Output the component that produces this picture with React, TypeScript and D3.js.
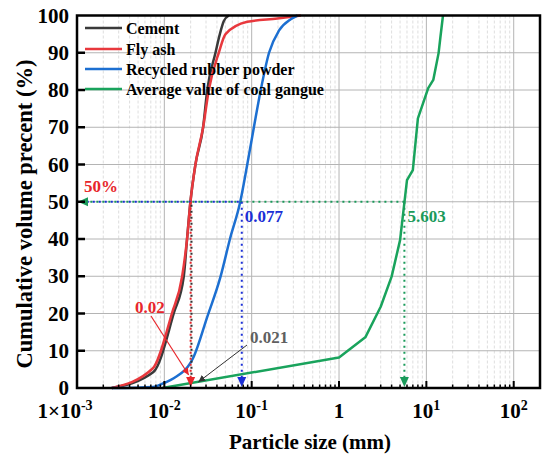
import React, { useEffect, useRef } from 'react';
import * as d3 from 'd3';

type Pt = [number, number];

// particle size (mm) vs cumulative volume (%)
const cementX = [0.0025, 0.0075, 0.0128, 0.0167, 0.0182, 0.0199, 0.0227, 0.0278, 0.031, 0.0385, 0.0432, 0.048, 0.0548];
const cementY = [0, 4.3, 20, 30, 40, 50, 60, 70, 80, 90, 95, 98.5, 100];
const flyAshX = [0.0025, 0.0074, 0.0122, 0.016, 0.0182, 0.0199, 0.0227, 0.0278, 0.0323, 0.042, 0.0502, 0.089, 0.197, 0.366];
const flyAshY = [0, 5.3, 20, 30, 40, 50, 60, 70, 80, 90, 95, 98.3, 99.2, 100];
const rubberX = [0.0025, 0.0075, 0.0098, 0.0128, 0.0217, 0.031, 0.044, 0.0564, 0.074, 0.089, 0.106, 0.127, 0.158, 0.206, 0.28, 0.335];
const rubberY = [0, 0.3, 1.3, 2.6, 8.4, 19.1, 29.9, 40, 50, 60, 70, 80, 90, 96, 99, 100];
const gangueX = [0.0095, 1, 2, 3, 4, 5, 6, 7, 8, 10.5, 12, 13.8, 14.5, 15.5];
const gangueY = [0, 8.2, 13.6, 21.8, 29.9, 39.7, 55.8, 58.5, 72.4, 80.5, 82.7, 89.9, 94.3, 100];

const seriesNames = ['Cement', 'Fly ash', 'Recycled rubber powder', 'Average value of coal gangue'];
const seriesColors = ['#3a3a3a', '#e8383d', '#1c6fd1', '#19a35c'];

// D50 values marked on the chart
const d50Values = [0.02, 0.021, 0.077, 5.603];
const d50Labels = ['0.02', '0.021', '0.077', '5.603'];

const yTicks = [0, 10, 20, 30, 40, 50, 60, 70, 80, 90, 100];
const xDecades = [1e-3, 1e-2, 1e-1, 1, 10, 100];
const xTickBase = ['1×10', '10', '10', '1', '10', '10'];
const xTickSup = ['-3', '-2', '-1', '', '1', '2'];

const FONT = '"Liberation Serif", "Times New Roman", serif';

const App: React.FC = () => {
    const ref = useRef<SVGSVGElement>(null);

    useEffect(() => {
        if (!ref.current) return;
        const svg = d3.select(ref.current);
        svg.selectAll('*').remove();

        const left = 77, right = 540, top = 15.5, bottom = 388;

        const x = d3.scaleLog().domain([1e-3, 200]).range([left, right]);
        const y = d3.scaleLinear().domain([0, 100]).range([bottom, top]);

        const defs = svg.append('defs');
        const marker = (id: string, color: string) => {
            defs.append('marker')
                .attr('id', id)
                .attr('viewBox', '0 0 10 10')
                .attr('refX', 10).attr('refY', 5)
                .attr('markerWidth', 7).attr('markerHeight', 7)
                .attr('markerUnits', 'userSpaceOnUse')
                .attr('orient', 'auto')
                .append('path').attr('d', 'M0,0L10,5L0,10z').attr('fill', color);
        };
        marker('arRed', '#e8262b');
        marker('arGray', '#333');

        // minor grid
        const minors: number[] = [];
        for (let e = -3; e <= 2; e++) {
            for (let m = 2; m <= 9; m++) {
                const v = m * Math.pow(10, e);
                if (v < 200) minors.push(v);
            }
        }
        svg.append('g').selectAll('line').data(minors).enter().append('line')
            .attr('x1', d => x(d)).attr('x2', d => x(d))
            .attr('y1', top).attr('y2', bottom)
            .attr('stroke', '#d6d6d6').attr('stroke-width', 0.8)
            .attr('stroke-dasharray', '3,2');

        // major grid
        svg.append('g').selectAll('line').data(xDecades.slice(1)).enter().append('line')
            .attr('x1', d => x(d)).attr('x2', d => x(d))
            .attr('y1', top).attr('y2', bottom)
            .attr('stroke', '#b4b4b4').attr('stroke-width', 1);
        svg.append('g').selectAll('line').data(yTicks.slice(1, -1)).enter().append('line')
            .attr('x1', left).attr('x2', right)
            .attr('y1', d => y(d)).attr('y2', d => y(d))
            .attr('stroke', '#b4b4b4').attr('stroke-width', 1);

        // series
        const series: Pt[][] = [
            cementX.map((v, i) => [v, cementY[i]] as Pt),
            flyAshX.map((v, i) => [v, flyAshY[i]] as Pt),
            rubberX.map((v, i) => [v, rubberY[i]] as Pt),
            gangueX.map((v, i) => [v, gangueY[i]] as Pt),
        ];
        const smooth = d3.line<Pt>().x(d => x(d[0])).y(d => y(d[1])).curve(d3.curveMonotoneX);
        const straight = d3.line<Pt>().x(d => x(d[0])).y(d => y(d[1]));
        series.forEach((s, i) => {
            svg.append('path')
                .attr('d', (i === 3 ? straight : smooth)(s) || '')
                .attr('fill', 'none')
                .attr('stroke', seriesColors[i])
                .attr('stroke-width', 2.5)
                .attr('stroke-linejoin', 'round');
        });

        // D50 guides
        const dotted = (x1: number, y1: number, x2: number, y2: number, color: string, offset = 0) =>
            svg.append('line')
                .attr('x1', x1).attr('y1', y1).attr('x2', x2).attr('y2', y2)
                .attr('stroke', color).attr('stroke-width', 2)
                .attr('stroke-dasharray', '2,4').attr('stroke-dashoffset', offset);

        dotted(x(d50Values[3]), y(50), left + 8, y(50), '#1a9a5a');
        dotted(x(d50Values[2]), y(50), left + 8, y(50), '#1b2fd6', 3);
        dotted(x(d50Values[3]), y(50), x(d50Values[3]), bottom - 9, '#1a9a5a');
        dotted(x(d50Values[2]), y(50), x(d50Values[2]), bottom - 9, '#1b2fd6');
        dotted(x(d50Values[0]), y(50), x(d50Values[0]), bottom - 9, '#e8262b');
        dotted(x(d50Values[1]) - 1, y(50), x(d50Values[1]) - 1, bottom - 9, '#333', 3);

        const tri = (cx: number, color: string) =>
            svg.append('path')
                .attr('d', `M${cx - 4.5},${bottom - 11}L${cx + 4.5},${bottom - 11}L${cx},${bottom - 1}z`)
                .attr('fill', color);
        tri(x(d50Values[0]), '#e8262b');
        tri(x(d50Values[2]), '#1b2fd6');
        tri(x(d50Values[3]), '#1a9a5a');
        svg.append('path')
            .attr('d', `M${left + 1},${y(50)}L${left + 11},${y(50) - 4.5}L${left + 11},${y(50) + 4.5}z`)
            .attr('fill', '#1a9a5a');

        // annotation arrows
        svg.append('line')
            .attr('x1', 151).attr('y1', 316).attr('x2', x(0.019)).attr('y2', y(3.5))
            .attr('stroke', '#e8262b').attr('stroke-width', 1.2)
            .attr('marker-end', 'url(#arRed)');
        svg.append('line')
            .attr('x1', 247).attr('y1', 345).attr('x2', x(0.0245)).attr('y2', y(1.6))
            .attr('stroke', '#333').attr('stroke-width', 1)
            .attr('marker-end', 'url(#arGray)');

        const label = (tx: number, ty: number, text: string, color: string) =>
            svg.append('text')
                .attr('x', tx).attr('y', ty)
                .attr('font-family', FONT).attr('font-weight', 'bold')
                .attr('font-size', 17).attr('fill', color).text(text);
        label(84, 192, '50%', '#e8262b');
        label(135, 313, d50Labels[0], '#e8262b');
        label(250, 343, d50Labels[1], '#606060');
        label(x(d50Values[2]) + 3, 222, d50Labels[2], '#1b2fd6');
        label(x(d50Values[3]) + 3, 222, d50Labels[3], '#1a9a5a');

        // ticks
        svg.append('g').selectAll('line').data(minors).enter().append('line')
            .attr('x1', d => x(d)).attr('x2', d => x(d))
            .attr('y1', bottom).attr('y2', bottom - 3.5)
            .attr('stroke', '#000').attr('stroke-width', 1.5);
        svg.append('g').selectAll('line').data(xDecades.slice(1)).enter().append('line')
            .attr('x1', d => x(d)).attr('x2', d => x(d))
            .attr('y1', bottom).attr('y2', bottom - 7)
            .attr('stroke', '#000').attr('stroke-width', 2);
        svg.append('g').selectAll('line').data(yTicks.slice(1, -1)).enter().append('line')
            .attr('x1', left).attr('x2', left + 8)
            .attr('y1', d => y(d)).attr('y2', d => y(d))
            .attr('stroke', '#000').attr('stroke-width', 2.5);

        // frame
        svg.append('rect')
            .attr('x', left).attr('y', top)
            .attr('width', right - left).attr('height', bottom - top)
            .attr('fill', 'none').attr('stroke', '#000').attr('stroke-width', 2.5);

        // tick labels
        svg.append('g').selectAll('text').data(yTicks).enter().append('text')
            .attr('x', 69).attr('y', d => y(d) + 7)
            .attr('text-anchor', 'end')
            .attr('font-family', FONT).attr('font-weight', 'bold').attr('font-size', 21)
            .text(d => String(d));

        const xl = svg.append('g').selectAll('text').data(xDecades).enter().append('text')
            .attr('x', (d, i) => x(d) - (i === 0 ? 12 : 0)).attr('y', 418)
            .attr('text-anchor', 'middle')
            .attr('font-family', FONT).attr('font-weight', 'bold').attr('font-size', 21);
        xl.append('tspan').text((_, i) => xTickBase[i]);
        xl.append('tspan')
            .attr('font-size', 14).attr('dy', -8)
            .text((_, i) => xTickSup[i]);

        // axis titles
        svg.append('text')
            .attr('x', 310).attr('y', 449)
            .attr('text-anchor', 'middle')
            .attr('font-family', FONT).attr('font-weight', 'bold').attr('font-size', 21)
            .text('Particle size (mm)');
        svg.append('text')
            .attr('transform', 'translate(32,214) rotate(-90)')
            .attr('text-anchor', 'middle')
            .attr('font-family', FONT).attr('font-weight', 'bold').attr('font-size', 22.5)
            .text('Cumulative volume precent (%)');

        // legend
        const lg = svg.append('g');
        const legendY = [28, 49, 69, 89];
        seriesNames.forEach((name, i) => {
            lg.append('line')
                .attr('x1', 85).attr('x2', 122)
                .attr('y1', legendY[i]).attr('y2', legendY[i])
                .attr('stroke', seriesColors[i]).attr('stroke-width', 2.5);
            lg.append('text')
                .attr('x', 126).attr('y', legendY[i] + 5.5)
                .attr('font-family', FONT).attr('font-weight', 'bold').attr('font-size', 16)
                .text(name);
        });
    }, []);

    return (
        <svg
            ref={ref}
            width={550}
            height={460}
            style={{ position: 'absolute', left: 0, top: 0, background: '#fff' }}
        />
    );
};

export default App;
